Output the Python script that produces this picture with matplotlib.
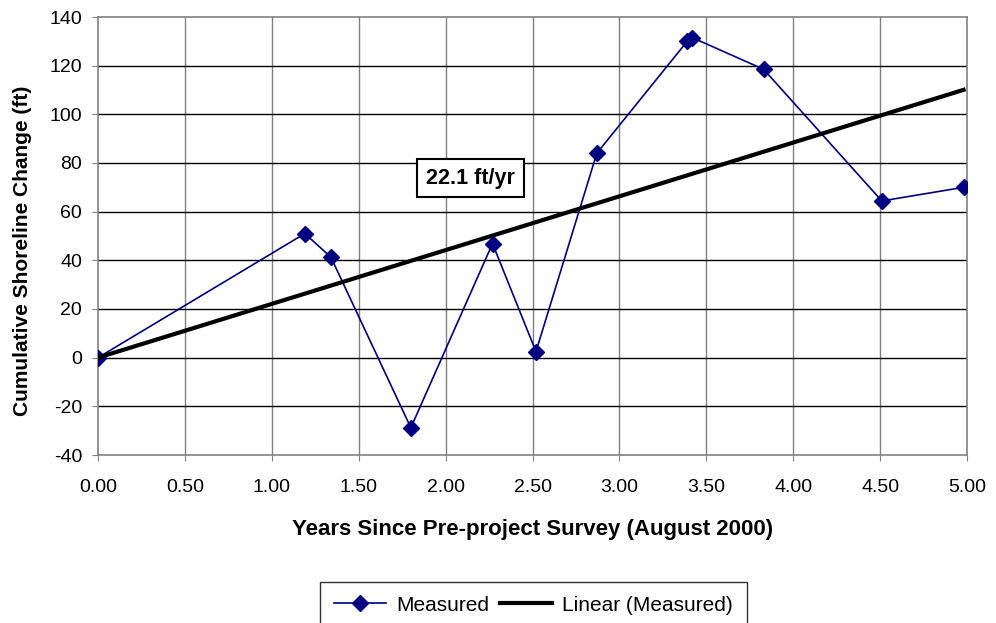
import matplotlib
matplotlib.use("Agg")
import matplotlib.pyplot as plt
import numpy as np

plt.rcParams['font.family'] = ['Liberation Sans', 'DejaVu Sans']
plt.rcParams['axes.unicode_minus'] = False

years = [0.0, 1.19, 1.34, 1.80, 2.27, 2.52, 2.87, 3.39, 3.42, 3.83, 4.51, 4.98]
change = [0.0, 51.0, 41.3, -28.8, 46.9, 2.5, 84.0, 130.0, 131.5, 118.5, 64.4, 70.0]
rate = 22.1  # ft/yr, linear trend through origin
xticks = [0.0, 0.5, 1.0, 1.5, 2.0, 2.5, 3.0, 3.5, 4.0, 4.5, 5.0]
yticks = [-40, -20, 0, 20, 40, 60, 80, 100, 120, 140]

fig = plt.figure(figsize=(9.96, 6.23), dpi=100)
ax = fig.add_axes([98/996, 1 - 455/623, (967-98)/996, (455-17)/623])

ax.set_xlim(0, 5)
ax.set_ylim(-40, 140)
ax.set_xticks(xticks)
ax.set_xticklabels([f"{v:.2f}" for v in xticks])
ax.set_yticks(yticks)

for x in xticks[1:-1]:
    ax.axvline(x, color='#808080', lw=1.0, zorder=1)
for y in yticks[1:-1]:
    ax.axhline(y, color='black', lw=1.0, zorder=1)

for s in ax.spines.values():
    s.set_color('#808080')
    s.set_linewidth(1.2)

ax.tick_params(axis='both', direction='out', length=4.5, color='#808080',
               labelsize=14)
ax.tick_params(axis='y', pad=7)
ax.tick_params(axis='x', pad=12.5)

ax.plot(years, change, color='#000080', lw=1.2, marker='D', markersize=8,
        markerfacecolor='#000080', markeredgecolor='#000080', zorder=3,
        label='Measured')
tx = np.array([0.0, years[-1]])
ax.plot(tx, rate * tx, color='black', lw=3, zorder=4, label='Linear (Measured)')

ax.text(2.143, 73.7, f"{rate} ft/yr", fontsize=15.5, fontweight='bold',
        ha='center', va='center', zorder=5,
        bbox=dict(boxstyle='square,pad=0.4', fc='white', ec='black', lw=1.5))

ax.set_xlabel('Years Since Pre-project Survey (August 2000)', fontsize=16,
              fontweight='bold', labelpad=17)
ax.set_ylabel('Cumulative Shoreline Change (ft)', fontsize=15,
              fontweight='bold')
ax.yaxis.set_label_coords(-0.076, 0.466)

leg = fig.legend(loc='upper center', bbox_to_anchor=(533.5/996, 1 - 582/623),
                 ncol=2, fontsize=15, frameon=True, fancybox=False,
                 edgecolor='black', handlelength=2.5, columnspacing=0.5,
                 handletextpad=0.5, borderpad=0.65, borderaxespad=0)
leg.get_frame().set_linewidth(1.0)

fig.savefig('out.png', dpi=100)
